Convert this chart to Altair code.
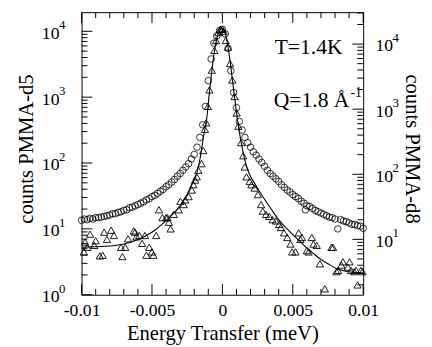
import altair as alt
import pandas as pd

# ---------------- data ----------------
circ_x = [-0.0100, -0.0098, -0.0096, -0.0094, -0.0092, -0.0090, -0.0088, -0.0086, -0.0084, -0.0082,
          -0.0080, -0.0078, -0.0076, -0.0074, -0.0072, -0.0070, -0.0068, -0.0066, -0.0064, -0.0062,
          -0.0060, -0.0058, -0.0056, -0.0054, -0.0052, -0.0050, -0.0048, -0.0046, -0.0044, -0.0042,
          -0.0040, -0.0038, -0.0036, -0.0034, -0.0032, -0.0030, -0.0028, -0.0026, -0.0024, -0.0022,
          -0.0020, -0.0018, -0.0016, -0.0014, -0.0012, -0.0010, -0.0008, -0.0006, -0.0004, -0.0002,
          0.0000, 0.0002, 0.0004, 0.0006, 0.0008, 0.0010, 0.0012, 0.0014, 0.0016, 0.0018,
          0.0020, 0.0022, 0.0024, 0.0026, 0.0028, 0.0030, 0.0032, 0.0034, 0.0036, 0.0038,
          0.0040, 0.0042, 0.0044, 0.0046, 0.0048, 0.0050, 0.0052, 0.0054, 0.0056, 0.0058,
          0.0059, 0.0060, 0.0062, 0.0064, 0.0066, 0.0068, 0.0070, 0.0072, 0.0074, 0.0076, 0.0078,
          0.0080, 0.0082, 0.0084, 0.0086, 0.0088, 0.0090, 0.0092, 0.0094, 0.0096, 0.0098, 0.0100]
circ_y = [13.5, 14.1, 13.8, 14.5, 14.1, 14.8, 14.8, 15.1, 15.5, 15.8,
          16.2, 17.0, 17.0, 17.8, 18.2, 19.1, 19.5, 20.9, 21.4, 22.4,
          23.4, 24.5, 25.7, 27.5, 28.8, 30.9, 32.4, 34.7, 37.2, 39.8,
          43.7, 46.8, 51.3, 56.2, 63.1, 69.2, 77.6, 87.1, 97.7, 115,
          135, 174, 245, 380, 724, 1778, 3802, 6607, 8511, 10233,
          10715, 9120, 5495, 2512, 1175, 692, 427, 316, 245, 204,
          174, 148, 132, 115, 102, 89.1, 77.6, 69.2, 63.1, 57.5,
          52.5, 46.8, 42.7, 38.9, 36.3, 33.1, 30.9, 28.8, 26.3, 24.5,
          19.5, 22.4, 21.9, 20.4, 19.1, 18.2, 17.4, 16.6, 15.8, 15.1, 14.8,
          14.1, 10.0, 13.8, 13.2, 12.9, 12.3, 11.7, 11.7, 11.2, 11.0, 10.2]

tri_x = [-0.00984, -0.00975, -0.0096, -0.0094, -0.0091, -0.0090, -0.0087, -0.0085, -0.0084, -0.0082,
         -0.0079, -0.0077, -0.0072, -0.0071, -0.0069, -0.0067, -0.0063, -0.0062, -0.0061, -0.0059,
         -0.0057, -0.0055, -0.0054, -0.0052, -0.0050, -0.0049, -0.0047, -0.0045, -0.00426, -0.0040,
         -0.0039, -0.0038, -0.00368, -0.00345, -0.0031, -0.00298, -0.00275, -0.00264, -0.0024, -0.00217,
         -0.00206, -0.00194, -0.00182, -0.00171, -0.00148, -0.00136, -0.00124, -0.00115, -0.00103, -0.00092,
         -0.00075, -0.00057, -0.00045, -0.00029, -0.00015, 0.0, 0.00008, 0.00024, 0.0004, 0.00054,
         0.00071, 0.00087, 0.00101, 0.00113, 0.00133, 0.00148, 0.00159, 0.00171, 0.00194, 0.00206,
         0.00229, 0.00252, 0.00275, 0.00287, 0.0031, 0.00333, 0.00357, 0.0038, 0.00403, 0.00415,
         0.00438, 0.00461, 0.00484, 0.00496, 0.00519, 0.00542, 0.00554, 0.00565, 0.0060, 0.00612,
         0.00635, 0.00647, 0.0067, 0.00693, 0.00728, 0.00775, 0.00786, 0.0081, 0.00821, 0.00845,
         0.00856, 0.00891, 0.00903, 0.00914, 0.00937, 0.00949, 0.0096, 0.00984, 0.00995]
tri_y = [4.47, 6.31, 5.25, 8.32, 5.62, 6.61, 3.89, 3.98, 8.91, 6.92,
         9.55, 7.94, 5.25, 3.80, 5.25, 7.08, 9.33, 8.91, 7.59, 7.94,
         6.03, 7.94, 3.98, 5.25, 4.47, 3.98, 7.94, 19.5, 14.8, 14.8,
         14.8, 12.6, 10.0, 16.6, 19.5, 26.3, 23.4, 27.5, 30.9, 38.9,
         46.8, 55.0, 61.7, 77.6, 97.7, 155, 324, 407, 724, 1288,
         2570, 5129, 7244, 9550, 10715, 10715, 10000, 7244, 5754, 3236,
         1820, 1023, 575, 363, 204, 129, 87.1, 61.7, 52.5, 46.8,
         41.7, 33.1, 23.4, 18.6, 16.6, 15.5, 13.8, 13.2, 11.7, 10.5,
         8.71, 7.41, 5.89, 4.47, 4.47, 8.71, 6.92, 7.41, 4.68, 4.47,
         7.41, 5.89, 5.62, 2.95, 1.23, 5.25, 5.25, 2.24, 2.34, 2.82,
         3.16, 2.63, 3.16, 2.34, 2.24, 2.34, 1.41, 2.34, 2.24]

fit_x = [-0.0100, -0.0090, -0.0080, -0.0070, -0.0060, -0.0054, -0.0048, -0.0043, -0.0037, -0.0031,
         -0.0027, -0.0024, -0.0021, -0.0019, -0.0016, -0.0013, -0.00115, -0.0009, -0.0006, -0.0003,
         -0.0001, 0.0001, 0.00036, 0.0006, 0.0008, 0.0011, 0.0013, 0.0016, 0.0019, 0.0023,
         0.0029, 0.0035, 0.0040, 0.0046, 0.0052, 0.0058, 0.0064, 0.0069, 0.0075, 0.0081,
         0.0087, 0.0093, 0.0100]
fit_y = [5.25, 5.37, 5.50, 5.89, 6.92, 7.94, 9.55, 11.7, 15.5, 20.9,
         28.2, 37.2, 50.1, 61.7, 112, 282, 407, 1288, 4467, 9120,
         10965, 10471, 6457, 2884, 1288, 417, 224, 110, 69.2, 49.0,
         30.2, 19.5, 13.8, 10.0, 7.41, 5.62, 4.37, 3.55, 2.95, 2.51,
         2.29, 2.19, 2.14]

x_ticks = [-0.01, -0.005, 0.0, 0.005, 0.01]
x_tick_labels = ["-0.01", "-0.005", "0", "0.005", "0.01"]
yl_ticks = [1, 10, 100, 1000, 10000]
yl_exponents = ["0", "1", "2", "3", "4"]
yr_ticks = [10, 100, 1000, 10000]
yr_exponents = ["1", "2", "3", "4"]
tick_base = "10"
x_title = "Energy Transfer (meV)"
yl_title = "counts  PMMA-d5"
yr_title = "counts  PMMA-d8"
annotations = ["T=1.4K", "Q=1.8 \u00c5", "-1"]

# ---------------- layout / style ----------------
W, H = 287, 288
FONT = "Liberation Serif"
YL_DOM = [1, 19500]
YR_DOM = [1.41, 30900]


def xs():
    return alt.Scale(domain=[-0.01, 0.01], nice=False, zero=False)


def ysl():
    return alt.Scale(type="log", domain=YL_DOM, nice=False)


def ysr():
    return alt.Scale(type="log", domain=YR_DOM, nice=False)


def label_expr(vals, labels):
    expr = "''"
    for v, lab in zip(vals, labels):
        tol = abs(v) * 1e-6 + 1e-9
        expr = f"(abs(datum.value - ({v})) < {tol}) ? '{lab}' : ({expr})"
    return expr


common_axis = dict(ticks=False, domain=False, grid=False, labelFont=FONT, labelFontSize=18,
                   labelColor="black", titleFont=FONT, titleFontSize=21, titleFontWeight="normal",
                   titleColor="black", labelOverlap=False, labelFlush=False)

x_axis = alt.Axis(values=x_ticks, labelExpr=label_expr(x_ticks, x_tick_labels), title=x_title,
                  labelPadding=7, titleY=46, titleBaseline="alphabetic", orient="bottom", **common_axis)
yl_axis = alt.Axis(values=yl_ticks, labelExpr=f"'{tick_base}'", title=yl_title,
                   labelPadding=23, labelBaseline="middle", labelOffset=2,
                   titleX=-50, titleY=139, titleBaseline="alphabetic",
                   orient="left", **common_axis)
yr_axis = alt.Axis(values=yr_ticks, labelExpr=f"'{tick_base}'", title=yr_title,
                   labelPadding=12, labelBaseline="middle", labelOffset=2,
                   titleX=43, titleY=139, titleBaseline="alphabetic",
                   orient="right", **common_axis)

df_c = pd.DataFrame({"x": circ_x, "y": circ_y})
df_t = pd.DataFrame({"x": tri_x, "y": tri_y})
df_f = pd.DataFrame({"x": fit_x, "y": fit_y})

# every layer sharing the x scale carries the same axis definition (so the merge keeps it)
circles = alt.Chart(df_c).mark_point(shape="circle", filled=False, color="black", size=45,
                                     strokeWidth=0.8, opacity=1).encode(
    x=alt.X("x:Q", scale=xs(), axis=x_axis),
    y=alt.Y("y:Q", scale=ysl(), axis=yl_axis))

triangles = alt.Chart(df_t).mark_point(shape="triangle-up", filled=False, color="black", size=55,
                                       strokeWidth=0.9, opacity=1).encode(
    x=alt.X("x:Q", scale=xs(), axis=x_axis),
    y=alt.Y("y:Q", scale=ysl(), axis=None))

fit = alt.Chart(df_f).mark_line(color="black", strokeWidth=1.1, interpolate="monotone").encode(
    x=alt.X("x:Q", scale=xs(), axis=x_axis),
    y=alt.Y("y:Q", scale=ysl(), axis=None))

# inward tick marks on all four sides
x_minor = [round(i * 0.001, 3) for i in range(-10, 11) if i % 5 != 0]
yl_minor = [m * 10 ** e for e in range(0, 5) for m in range(2, 10) if m * 10 ** e < YL_DOM[1]]
yr_minor = [m * 10 ** e for e in range(0, 5) for m in range(2, 10) if YR_DOM[0] < m * 10 ** e < YR_DOM[1]]


def xrule(vals, y0, y1):
    return alt.Chart(pd.DataFrame({"v": vals})).mark_rule(color="black", strokeWidth=1).encode(
        x=alt.X("v:Q", scale=xs(), axis=x_axis), y=alt.value(y0), y2=alt.value(y1))


def yrule(vals, scale, x0, x1, axis=None):
    return alt.Chart(pd.DataFrame({"v": vals})).mark_rule(color="black", strokeWidth=1).encode(
        y=alt.Y("v:Q", scale=scale, axis=axis), x=alt.value(x0), x2=alt.value(x1))


def exponents(vals, labels, scale, x):
    return alt.Chart(pd.DataFrame({"v": vals, "t": labels})).mark_text(
        font=FONT, fontSize=13, align="left", baseline="middle", color="black", dy=-6).encode(
        y=alt.Y("v:Q", scale=scale, axis=None), x=alt.value(x), text="t:N")


def note(txt, x, y, size=22, align="right"):
    return alt.Chart(pd.DataFrame({"t": [txt]})).mark_text(
        font=FONT, fontSize=size, align=align, baseline="middle", color="black").encode(
        text="t:N", x=alt.value(x), y=alt.value(y))


layers = [
    circles,
    yrule(yr_ticks, ysr(), W, W - 11, axis=yr_axis),
    triangles,
    fit,
    xrule(x_ticks, H, H - 11), xrule(x_minor, H, H - 6),
    xrule(x_ticks, 0, 11), xrule(x_minor, 0, 6),
    yrule(yl_ticks, ysl(), 0, 11), yrule(yl_minor, ysl(), 0, 6),
    yrule(yr_minor, ysr(), W, W - 6),
    exponents(yl_ticks, yl_exponents, ysl(), -23),
    exponents(yr_ticks, yr_exponents, ysr(), W + 30),
    note(annotations[0], 266, 36),
    note(annotations[1], 273, 90),
    note(annotations[2], 274, 82, size=14, align="left"),
]

chart = alt.layer(*layers).resolve_scale(y="independent").properties(
    width=W, height=H,
    autosize=alt.AutoSizeParams(type="none"),
    padding={"left": 75, "top": 1, "right": 62, "bottom": 50},
).configure_view(stroke="black", strokeWidth=1)

chart.save("out.html", embed_options={"renderer": "svg", "actions": False})
